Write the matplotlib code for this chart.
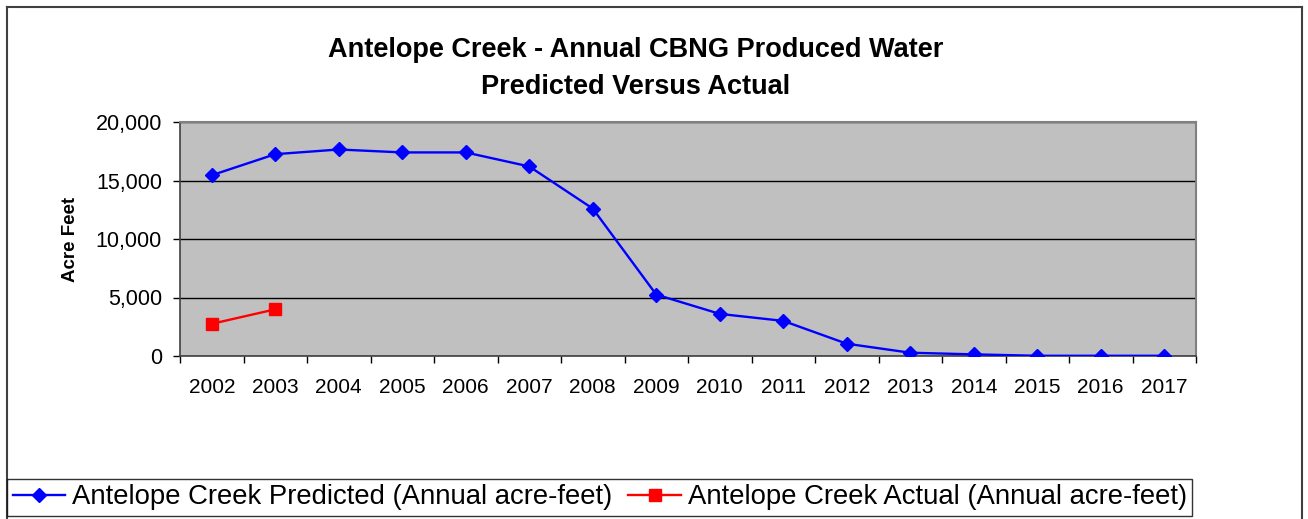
"""
Antelope Creek - CBNG produced water, predicted vs actual
"""

import matplotlib
matplotlib.use("Agg")
import matplotlib.pyplot as plt
from matplotlib.lines import Line2D
from matplotlib.ticker import FuncFormatter

plt.rcParams["font.family"] = ["Liberation Sans", "DejaVu Sans"]

years = ["2002", "2003", "2004", "2005", "2006", "2007", "2008", "2009",
         "2010", "2011", "2012", "2013", "2014", "2015", "2016", "2017"]
predicted = [15450, 17250, 17650, 17400, 17400, 16200, 12600, 5250,
             3600, 3000, 1050, 280, 140, 20, 20, 20]
actual_years = ["2002", "2003"]
actual = [2750, 3990]

W, H = 1308, 519
fig = plt.figure(figsize=(W / 100, H / 100), dpi=100)
ax = fig.add_axes([180 / W, 1 - 356 / H, (1196 - 180) / W, (356 - 122) / H])

x_pred = list(range(len(years)))
x_act = [years.index(y) for y in actual_years]

ax.set_facecolor("#c0c0c0")
ax.plot(x_pred, predicted, color="#0000ff", lw=1.7, marker="D",
        markersize=7, label="Antelope Creek Predicted (Annual acre-feet)",
        zorder=3)
ax.plot(x_act, actual, color="#ff0000", lw=1.7, marker="s",
        markersize=8, label="Antelope Creek Actual (Annual acre-feet)",
        zorder=3)

ax.set_ylim(0, 20000)
ax.set_xlim(-0.5, len(years) - 0.5)
ax.set_yticks([0, 5000, 10000, 15000, 20000])
ax.yaxis.set_major_formatter(FuncFormatter(lambda v, p: f"{int(v):,}"))
ax.yaxis.grid(True, color="black", lw=1)
ax.set_axisbelow(True)

# categories between ticks, excel style
ax.set_xticks([i - 0.5 for i in range(len(years) + 1)])
ax.set_xticklabels([])
ax.set_xticks(x_pred, minor=True)
ax.set_xticklabels(years, minor=True)
ax.tick_params(axis="x", which="major", length=5, width=1, direction="out")
ax.tick_params(axis="x", which="minor", length=0, pad=16, labelsize=15)
ax.tick_params(axis="y", length=5, width=1, pad=8, labelsize=15.5)

for side in ["top", "right"]:
    ax.spines[side].set_color("#808080")
    ax.spines[side].set_linewidth(1.5)
for side in ["left", "bottom"]:
    ax.spines[side].set_color("#404040")
    ax.spines[side].set_linewidth(1.2)

ax.set_ylabel("Acre Feet", fontsize=13.5, fontweight="bold", labelpad=12)

fig.text(636 / W, 1 - 50 / H, "Antelope Creek - Annual CBNG Produced Water",
         ha="center", va="center", fontsize=19.5, fontweight="bold")
fig.text(636 / W, 1 - 87 / H, "Predicted Versus Actual",
         ha="center", va="center", fontsize=19.5, fontweight="bold")

# outer chart frame
for xs, ys in [([7, 7], [7, H]), ([7, 1302], [7, 7]), ([1302, 1302], [7, H])]:
    fig.add_artist(Line2D([v / W for v in xs], [1 - v / H for v in ys],
                          color="#404040", lw=1.5))

leg = fig.legend(loc="lower left", bbox_to_anchor=(7 / W, 1 - 516 / H,
                                                   (1192 - 7) / W, 45 / H),
                 ncol=2, fontsize=19.8, frameon=True, fancybox=False,
                 edgecolor="black", handlelength=1.9, handletextpad=0.25,
                 columnspacing=0.6, borderpad=0.2, borderaxespad=0)
leg.get_frame().set_linewidth(1)

fig.savefig("out.png", dpi=100)
